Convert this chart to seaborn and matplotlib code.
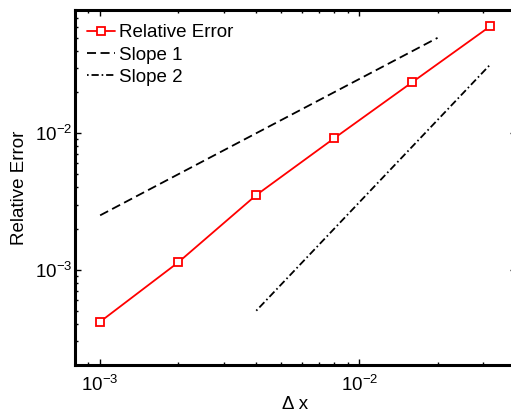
import matplotlib
matplotlib.use("Agg")
import matplotlib.pyplot as plt
import seaborn as sns
import pandas as pd

# values
dx = [0.001, 0.002, 0.004, 0.008, 0.016, 0.032]
rel_err = [4.15e-4, 1.13e-3, 3.52e-3, 9.2e-3, 0.0237, 0.061]

slope1_x = [0.001, 0.02]
slope1_y = [2.5e-3, 0.05]

slope2_x = [0.004, 0.032]
slope2_y = [5e-4, 0.032]

sns.set_style("ticks")
plt.rcParams["font.family"] = ["Liberation Sans", "DejaVu Sans"]
plt.rcParams["mathtext.fontset"] = "custom"
plt.rcParams["mathtext.rm"] = "Liberation Sans"
plt.rcParams["mathtext.it"] = "Liberation Sans:italic"
plt.rcParams["mathtext.bf"] = "Liberation Sans:bold"
plt.rcParams["font.size"] = 13.5
for key in ["text.color", "axes.labelcolor", "xtick.color", "ytick.color", "axes.edgecolor"]:
    plt.rcParams[key] = "black"

df = pd.DataFrame({"dx": dx, "err": rel_err})
s1 = pd.DataFrame({"dx": slope1_x, "err": slope1_y})
s2 = pd.DataFrame({"dx": slope2_x, "err": slope2_y})

fig = plt.figure(figsize=(5.11, 4.2), dpi=100)
W, H = 511, 420
ax = fig.add_axes([75 / W, 55 / H, 440.6 / W, 355 / H])

sns.lineplot(data=df, x="dx", y="err", ax=ax, color="red", lw=1.3,
             marker="s", markersize=5.5, markerfacecolor="white",
             markeredgecolor="red", markeredgewidth=1.3, label="Relative Error")
sns.lineplot(data=s1, x="dx", y="err", ax=ax, color="black", lw=1.3,
             linestyle=(0, (5, 2.5)), label="Slope 1")
sns.lineplot(data=s2, x="dx", y="err", ax=ax, color="black", lw=1.3,
             linestyle=(5.6, (4, 1.6, 0.9, 1.6)), label="Slope 2")

ax.set_xscale("log")
ax.set_yscale("log")
ax.set_xlim(8e-4, 0.04)
ax.set_ylim(2e-4, 0.08)

for side in ["left", "right", "top", "bottom"]:
    ax.spines[side].set_visible(True)
    ax.spines[side].set_linewidth(2.2)
    ax.spines[side].set_color("black")

ax.tick_params(which="both", direction="in", top=True, right=True,
               width=1.0, colors="black", labelsize=13.5)
ax.tick_params(which="major", length=4)
ax.tick_params(which="minor", length=2.2)
ax.tick_params(axis="x", which="both", pad=7)
ax.tick_params(axis="y", which="both", pad=2)

ax.set_xlabel("Δ x", fontsize=13.5, labelpad=1)
ax.set_ylabel("Relative Error", fontsize=13.5, labelpad=5)

ax.legend(loc="upper left", bbox_to_anchor=(12 / 440.6, 1 - 14 / 355),
          borderaxespad=0, borderpad=0, frameon=False, fontsize=13.5,
          handlelength=1.5, handletextpad=0.2, labelspacing=0.28)

fig.savefig("out.png", dpi=100)
